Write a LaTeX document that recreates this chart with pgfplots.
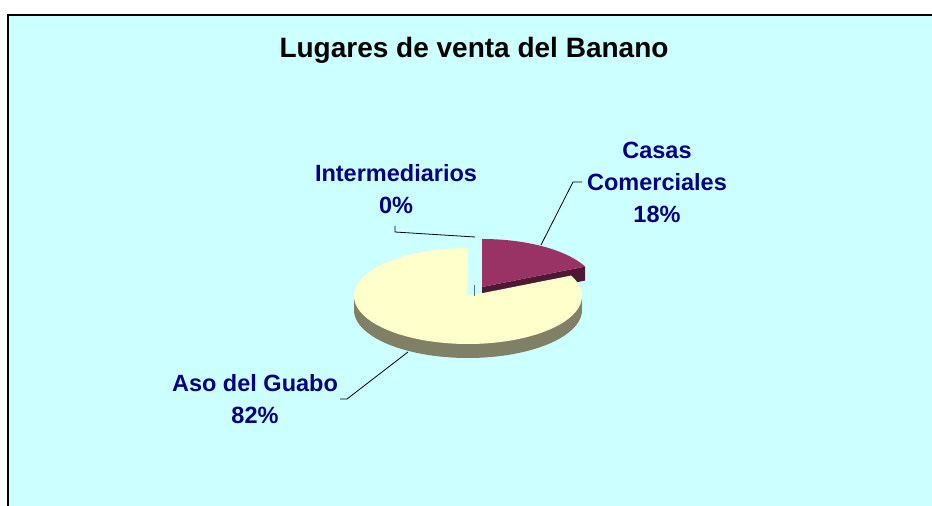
\documentclass[border=0pt]{standalone}
\usepackage{pgfplots}
\pgfplotsset{compat=1.18}
\usepackage{pgfplotstable}
\usepackage{fontspec}
\setmainfont{Liberation Sans}
\definecolor{bgc}{RGB}{204,255,255}
\definecolor{ytop}{RGB}{255,255,204}
\definecolor{yside}{RGB}{128,128,102}
\definecolor{mtop}{RGB}{153,51,102}
\definecolor{mside}{RGB}{77,25,51}
\definecolor{lab}{RGB}{0,0,128}
\definecolor{zline}{RGB}{102,102,153}

\pgfplotstableread{
name value
Casas 18
Aso 82
Inter 0
}\pietable

\begin{document}
\begin{tikzpicture}
\pgfplotstablegetelem{0}{value}\of\pietable \let\vC\pgfplotsretval
\pgfplotstablegetelem{1}{value}\of\pietable \let\vA\pgfplotsretval
\pgfmathsetmacro{\aC}{90-3.6*\vC}
\pgfmathsetmacro{\aY}{90+3.6*\vA}
\def\rx{114}\def\ry{48}\def\dep{14}
\def\ycx{468}\def\ycy{210}
\def\mcx{482}\def\mcy{219}
\pgfmathsetmacro{\xr}{\mcx+\rx*cos(\aC)}
\pgfmathsetmacro{\yr}{\mcy+\ry*sin(\aC)}
\pgfmathsetmacro{\yrb}{\yr-\dep}
\pgfmathsetmacro{\mcyb}{\mcy-\dep}
\pgfmathsetmacro{\ycyb}{\ycy-\dep}
\pgfmathsetmacro{\xl}{\ycx-\rx}
\pgfmathsetmacro{\xrr}{\ycx+\rx}
\begin{axis}[x=1pt,y=1pt,xmin=0,xmax=932,ymin=0,ymax=506,hide axis,clip=false]
\fill[white] (-5,-5) rectangle (940,512);
\fill[bgc] (8,-5) rectangle (940,491);
\draw[black,line width=1.3pt] (8,-5) -- (8,491) -- (940,491);
% Casas Comerciales (exploded, behind)
\addplot[fill=mside,draw=none] coordinates {(\mcx,\mcy) (\xr,\yr) (\xr,\yrb) (\mcx,\mcyb)} -- cycle;
\addplot[fill=mtop,draw=none,domain=\aC:90,samples=60] ({\mcx+\rx*cos(x)},{\mcy+\ry*sin(x)}) -- (\mcx,\mcy) -- cycle;
% Aso del Guabo
\addplot[fill=yside,draw=none,domain=180:360,samples=80] ({\ycx+\rx*cos(x)},{\ycyb+\ry*sin(x)}) -- cycle;
\addplot[fill=yside,draw=none] coordinates {(\xl,\ycyb) (\xrr,\ycyb) (\xrr,\ycy) (\xl,\ycy)} -- cycle;
\addplot[fill=ytop,draw=none,domain=90:\aY,samples=150] ({\ycx+\rx*cos(x)},{\ycy+\ry*sin(x)}) -- (\ycx,\ycy) -- cycle;
% Intermediarios (0%)
\addplot[zline,line width=1pt] coordinates {(474,221) (474,210)};
% leader lines
\addplot[black,line width=0.8pt] coordinates {(395,280) (395,274) (475,269)};
\addplot[black,line width=0.8pt] coordinates {(582,324) (573,324) (541,261)};
\addplot[black,line width=0.8pt] coordinates {(340,107) (347,107) (408,154)};
% labels
\node[font=\bfseries\fontsize{28}{34}\selectfont] at (474,456) {Lugares de venta del Banano};
\node[align=center,text=lab,font=\bfseries\fontsize{23.5}{32}\selectfont] at (396,317) {Intermediarios\\0\%};
\node[align=center,text=lab,font=\bfseries\fontsize{23.5}{32}\selectfont] at (657,324) {Casas\\Comerciales\\18\%};
\node[align=center,text=lab,font=\bfseries\fontsize{23.5}{32}\selectfont] at (255,107) {Aso del Guabo\\82\%};
\end{axis}
\pgfresetboundingbox
\path[use as bounding box] (0pt,0pt) rectangle (932pt,506pt);
\end{tikzpicture}
\end{document}
